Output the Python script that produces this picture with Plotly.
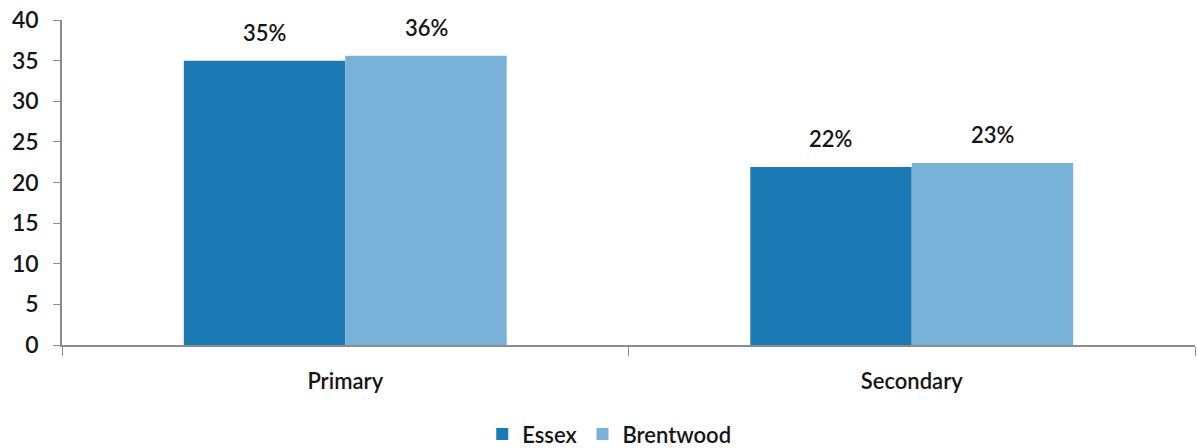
import plotly.graph_objects as go

categories = ["Primary", "Secondary"]
essex = [35.0, 21.9]
brentwood = [35.6, 22.4]
essex_labels = ["35%", "22%"]
brentwood_labels = ["36%", "23%"]
y_ticks = [0, 5, 10, 15, 20, 25, 30, 35, 40]

FONT = "Lato, 'Open Sans', sans-serif"
TXT = "#151515"
fig = go.Figure()
fig.add_trace(go.Bar(name="Essex", x=categories, y=essex, marker_color="#1b7ab4",
                     marker_line_width=0))
fig.add_trace(go.Bar(name="Brentwood", x=categories, y=brentwood, marker_color="#79b2d8",
                     marker_line_width=0))

for cat, v, lab in zip(categories, essex, essex_labels):
    fig.add_annotation(x=cat, y=v, text=lab, showarrow=False, xshift=-81, yshift=13,
                       yanchor="bottom", font=dict(family=FONT, size=22, color=TXT, weight=600))
for cat, v, lab in zip(categories, brentwood, brentwood_labels):
    fig.add_annotation(x=cat, y=v, text=lab, showarrow=False, xshift=81, yshift=13,
                       yanchor="bottom", font=dict(family=FONT, size=22, color=TXT, weight=600))

fig.update_layout(
    width=1198, height=448,
    margin=dict(l=62, r=3, t=20, b=103, autoexpand=False),
    paper_bgcolor="white", plot_bgcolor="white",
    barmode="group", bargap=0.43, bargroupgap=0,
    font=dict(family=FONT, size=22, color=TXT),
    showlegend=True,
    legend=dict(orientation="h", x=0.483, xanchor="center",
                y=-0.21, yanchor="top",
                font=dict(family=FONT, size=22, color=TXT, weight=600), itemwidth=30,
                traceorder="normal"),
)
fig.update_yaxes(range=[0, 40], tickvals=y_ticks, showgrid=False, zeroline=False,
                 showline=True, linecolor="#8c8c8c", linewidth=1.5,
                 ticks="outside", ticklen=7, tickcolor="#8c8c8c",
                 ticklabelstandoff=10, automargin=False,
                 tickfont=dict(family=FONT, size=23, color=TXT, weight=600))
fig.update_xaxes(showline=True, linecolor="#8c8c8c", linewidth=1.5,
                 ticks="outside", tickson="boundaries", ticklen=9, tickcolor="#8c8c8c",
                 ticklabelstandoff=16, automargin=False,
                 tickfont=dict(family=FONT, size=22, color=TXT, weight=600))

fig.write_html("out.html")
